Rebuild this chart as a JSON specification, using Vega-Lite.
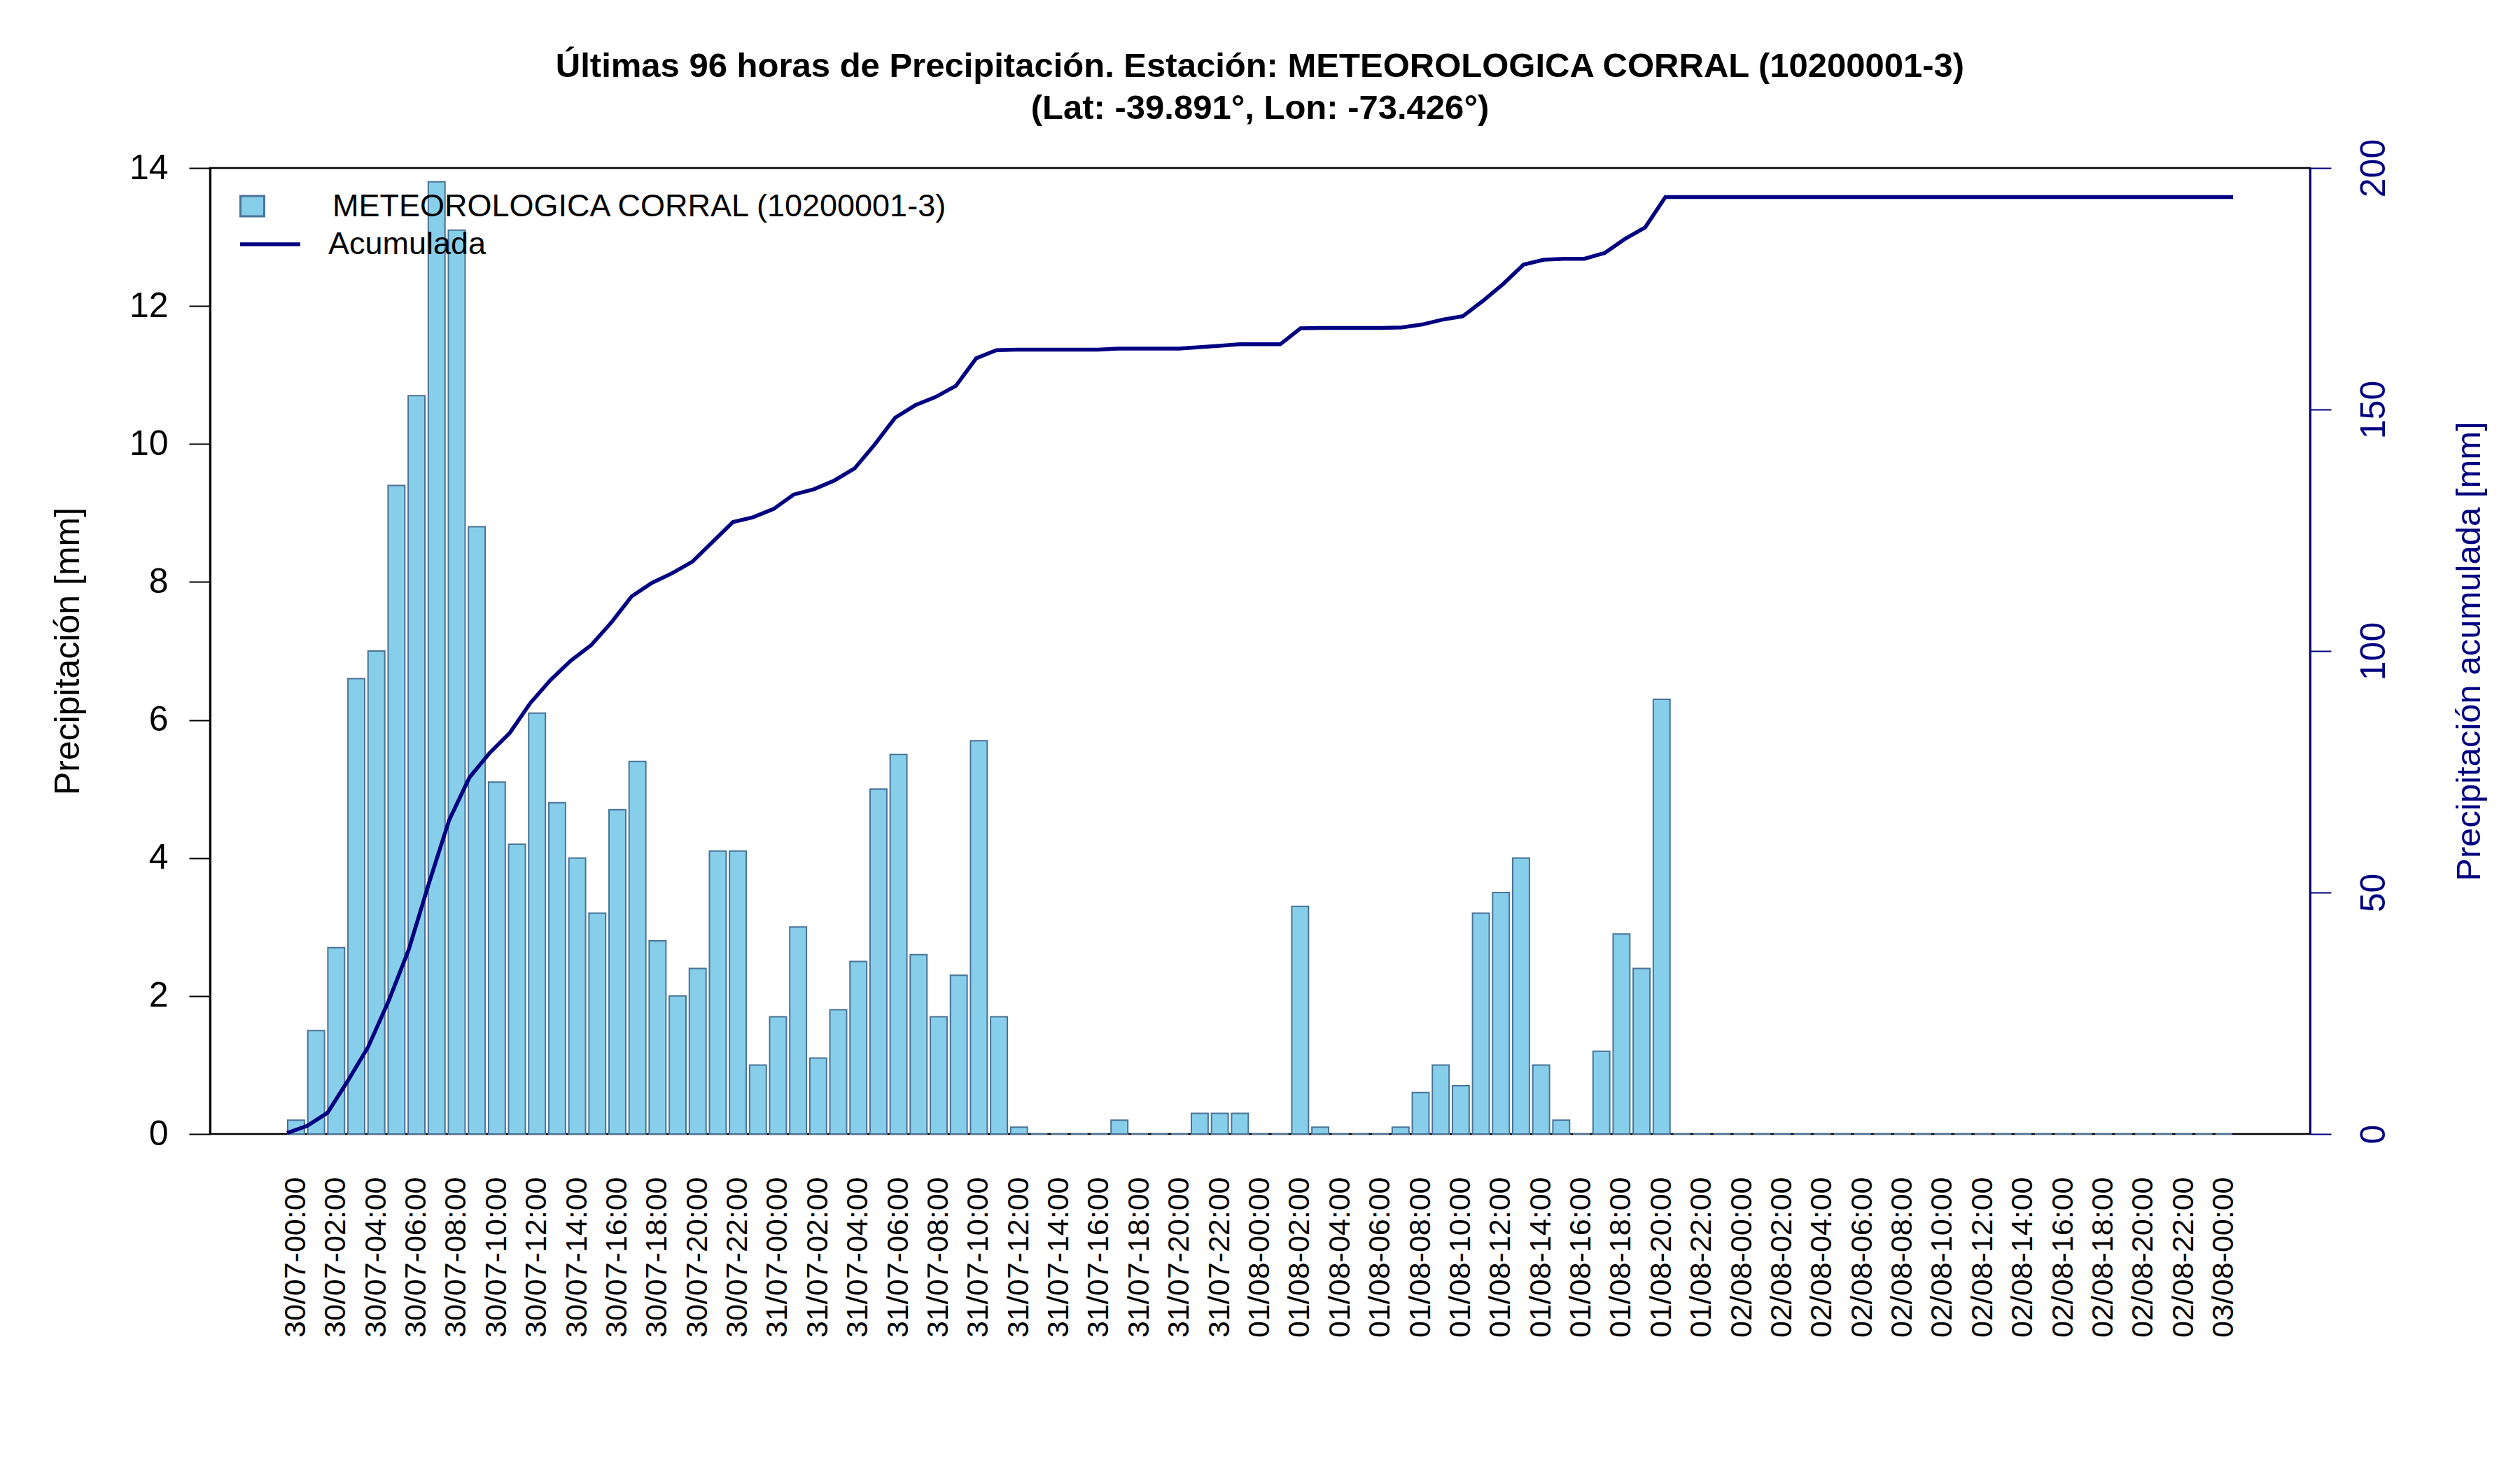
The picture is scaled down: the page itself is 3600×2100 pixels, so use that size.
{
  "$schema": "https://vega.github.io/schema/vega-lite/v6.json",
  "autosize": {"type": "none"},
  "padding": {"left": 300, "top": 240, "right": 300, "bottom": 480},
  "width": 3000,
  "height": 1380,
  "background": "white",
  "config": {
    "font": "Liberation Sans",
    "view": {"stroke": "black", "strokeWidth": 2.5},
    "axis": {"grid": false}
  },
  "title": {
    "text": ["Últimas 96 horas de Precipitación. Estación: METEOROLOGICA CORRAL (10200001-3)", "(Lat: -39.891°, Lon: -73.426°)"],
    "fontSize": 49,
    "fontWeight": "bold",
    "font": "Liberation Sans",
    "color": "black",
    "anchor": "middle",
    "frame": "group",
    "offset": 18,
    "lineHeight": 60
  },
  "data": {"values": [
    {"t": "30/07-00:00", "p": 0.2, "a": 0.2},
    {"t": "30/07-01:00", "p": 1.5, "a": 1.7},
    {"t": "30/07-02:00", "p": 2.7, "a": 4.4},
    {"t": "30/07-03:00", "p": 6.6, "a": 11.0},
    {"t": "30/07-04:00", "p": 7.0, "a": 18.0},
    {"t": "30/07-05:00", "p": 9.4, "a": 27.4},
    {"t": "30/07-06:00", "p": 10.7, "a": 38.1},
    {"t": "30/07-07:00", "p": 13.8, "a": 51.9},
    {"t": "30/07-08:00", "p": 13.1, "a": 65.0},
    {"t": "30/07-09:00", "p": 8.8, "a": 73.8},
    {"t": "30/07-10:00", "p": 5.1, "a": 78.9},
    {"t": "30/07-11:00", "p": 4.2, "a": 83.1},
    {"t": "30/07-12:00", "p": 6.1, "a": 89.2},
    {"t": "30/07-13:00", "p": 4.8, "a": 94.0},
    {"t": "30/07-14:00", "p": 4.0, "a": 98.0},
    {"t": "30/07-15:00", "p": 3.2, "a": 101.2},
    {"t": "30/07-16:00", "p": 4.7, "a": 105.9},
    {"t": "30/07-17:00", "p": 5.4, "a": 111.3},
    {"t": "30/07-18:00", "p": 2.8, "a": 114.1},
    {"t": "30/07-19:00", "p": 2.0, "a": 116.1},
    {"t": "30/07-20:00", "p": 2.4, "a": 118.5},
    {"t": "30/07-21:00", "p": 4.1, "a": 122.6},
    {"t": "30/07-22:00", "p": 4.1, "a": 126.7},
    {"t": "30/07-23:00", "p": 1.0, "a": 127.7},
    {"t": "31/07-00:00", "p": 1.7, "a": 129.4},
    {"t": "31/07-01:00", "p": 3.0, "a": 132.4},
    {"t": "31/07-02:00", "p": 1.1, "a": 133.5},
    {"t": "31/07-03:00", "p": 1.8, "a": 135.3},
    {"t": "31/07-04:00", "p": 2.5, "a": 137.8},
    {"t": "31/07-05:00", "p": 5.0, "a": 142.8},
    {"t": "31/07-06:00", "p": 5.5, "a": 148.3},
    {"t": "31/07-07:00", "p": 2.6, "a": 150.9},
    {"t": "31/07-08:00", "p": 1.7, "a": 152.6},
    {"t": "31/07-09:00", "p": 2.3, "a": 154.9},
    {"t": "31/07-10:00", "p": 5.7, "a": 160.6},
    {"t": "31/07-11:00", "p": 1.7, "a": 162.3},
    {"t": "31/07-12:00", "p": 0.1, "a": 162.4},
    {"t": "31/07-13:00", "p": 0, "a": 162.4},
    {"t": "31/07-14:00", "p": 0, "a": 162.4},
    {"t": "31/07-15:00", "p": 0, "a": 162.4},
    {"t": "31/07-16:00", "p": 0, "a": 162.4},
    {"t": "31/07-17:00", "p": 0.2, "a": 162.6},
    {"t": "31/07-18:00", "p": 0, "a": 162.6},
    {"t": "31/07-19:00", "p": 0, "a": 162.6},
    {"t": "31/07-20:00", "p": 0, "a": 162.6},
    {"t": "31/07-21:00", "p": 0.3, "a": 162.9},
    {"t": "31/07-22:00", "p": 0.3, "a": 163.2},
    {"t": "31/07-23:00", "p": 0.3, "a": 163.5},
    {"t": "01/08-00:00", "p": 0, "a": 163.5},
    {"t": "01/08-01:00", "p": 0, "a": 163.5},
    {"t": "01/08-02:00", "p": 3.3, "a": 166.8},
    {"t": "01/08-03:00", "p": 0.1, "a": 166.9},
    {"t": "01/08-04:00", "p": 0, "a": 166.9},
    {"t": "01/08-05:00", "p": 0, "a": 166.9},
    {"t": "01/08-06:00", "p": 0, "a": 166.9},
    {"t": "01/08-07:00", "p": 0.1, "a": 167.0},
    {"t": "01/08-08:00", "p": 0.6, "a": 167.6},
    {"t": "01/08-09:00", "p": 1.0, "a": 168.6},
    {"t": "01/08-10:00", "p": 0.7, "a": 169.3},
    {"t": "01/08-11:00", "p": 3.2, "a": 172.5},
    {"t": "01/08-12:00", "p": 3.5, "a": 176.0},
    {"t": "01/08-13:00", "p": 4.0, "a": 180.0},
    {"t": "01/08-14:00", "p": 1.0, "a": 181.0},
    {"t": "01/08-15:00", "p": 0.2, "a": 181.2},
    {"t": "01/08-16:00", "p": 0, "a": 181.2},
    {"t": "01/08-17:00", "p": 1.2, "a": 182.4},
    {"t": "01/08-18:00", "p": 2.9, "a": 185.3},
    {"t": "01/08-19:00", "p": 2.4, "a": 187.7},
    {"t": "01/08-20:00", "p": 6.3, "a": 194.0},
    {"t": "01/08-21:00", "p": 0, "a": 194.0},
    {"t": "01/08-22:00", "p": 0, "a": 194.0},
    {"t": "01/08-23:00", "p": 0, "a": 194.0},
    {"t": "02/08-00:00", "p": 0, "a": 194.0},
    {"t": "02/08-01:00", "p": 0, "a": 194.0},
    {"t": "02/08-02:00", "p": 0, "a": 194.0},
    {"t": "02/08-03:00", "p": 0, "a": 194.0},
    {"t": "02/08-04:00", "p": 0, "a": 194.0},
    {"t": "02/08-05:00", "p": 0, "a": 194.0},
    {"t": "02/08-06:00", "p": 0, "a": 194.0},
    {"t": "02/08-07:00", "p": 0, "a": 194.0},
    {"t": "02/08-08:00", "p": 0, "a": 194.0},
    {"t": "02/08-09:00", "p": 0, "a": 194.0},
    {"t": "02/08-10:00", "p": 0, "a": 194.0},
    {"t": "02/08-11:00", "p": 0, "a": 194.0},
    {"t": "02/08-12:00", "p": 0, "a": 194.0},
    {"t": "02/08-13:00", "p": 0, "a": 194.0},
    {"t": "02/08-14:00", "p": 0, "a": 194.0},
    {"t": "02/08-15:00", "p": 0, "a": 194.0},
    {"t": "02/08-16:00", "p": 0, "a": 194.0},
    {"t": "02/08-17:00", "p": 0, "a": 194.0},
    {"t": "02/08-18:00", "p": 0, "a": 194.0},
    {"t": "02/08-19:00", "p": 0, "a": 194.0},
    {"t": "02/08-20:00", "p": 0, "a": 194.0},
    {"t": "02/08-21:00", "p": 0, "a": 194.0},
    {"t": "02/08-22:00", "p": 0, "a": 194.0},
    {"t": "02/08-23:00", "p": 0, "a": 194.0},
    {"t": "03/08-00:00", "p": 0, "a": 194.0}
  ]},
  "layer": [
    {
      "mark": {"type": "bar", "stroke": "#4a7396", "strokeWidth": 2},
      "encoding": {
        "x": {
          "field": "t", "type": "ordinal", "sort": null,
          "scale": {"type": "band", "paddingInner": 0.1667, "paddingOuter": 0, "range": [111, 2889]},
          "axis": {
            "orient": "bottom",
            "title": null,
            "values": ["30/07-00:00","30/07-02:00","30/07-04:00","30/07-06:00","30/07-08:00","30/07-10:00","30/07-12:00","30/07-14:00","30/07-16:00","30/07-18:00","30/07-20:00","30/07-22:00","31/07-00:00","31/07-02:00","31/07-04:00","31/07-06:00","31/07-08:00","31/07-10:00","31/07-12:00","31/07-14:00","31/07-16:00","31/07-18:00","31/07-20:00","31/07-22:00","01/08-00:00","01/08-02:00","01/08-04:00","01/08-06:00","01/08-08:00","01/08-10:00","01/08-12:00","01/08-14:00","01/08-16:00","01/08-18:00","01/08-20:00","01/08-22:00","02/08-00:00","02/08-02:00","02/08-04:00","02/08-06:00","02/08-08:00","02/08-10:00","02/08-12:00","02/08-14:00","02/08-16:00","02/08-18:00","02/08-20:00","02/08-22:00","03/08-00:00"],
            "ticks": false,
            "domain": false,
            "labelAngle": 270,
            "labelAlign": "right",
            "labelBaseline": "middle",
            "labelFontSize": 43,
            "labelColor": "black",
            "labelPadding": 61,
            "labelLimit": 1000,
            "labelOverlap": false,
            "labelFlush": false,
            "labelBound": false
          }
        },
        "y": {
          "field": "p", "type": "quantitative",
          "scale": {"domain": [0, 14], "nice": false, "zero": true},
          "axis": {
            "orient": "left",
            "title": "Precipitación [mm]",
            "values": [0, 2, 4, 6, 8, 10, 12, 14],
            "domainColor": "black",
            "domainWidth": 3,
            "tickColor": "black",
            "tickWidth": 2,
            "tickSize": 30,
            "labelFontSize": 50,
            "labelColor": "black",
            "labelPadding": 30,
            "labelFlush": false,
            "titleFontSize": 50,
            "titleFontWeight": "normal",
            "titleColor": "black",
            "titleAngle": 270,
            "titleX": -203,
            "titleY": 690,
            "titleAlign": "center",
            "titleBaseline": "middle"
          }
        },
        "fill": {
          "datum": "METEOROLOGICA CORRAL (10200001-3)",
          "type": "nominal",
          "scale": {"range": ["#87CEEB"]},
          "legend": {
            "title": null,
            "orient": "none",
            "legendX": 38,
            "legendY": 32,
            "padding": 0,
            "symbolType": "M-1,-0.85H1V0.85H-1Z",
            "symbolSize": 1156,
            "symbolStrokeColor": "#4a7396",
            "symbolStrokeWidth": 3,
            "symbolFillColor": "#87CEEB",
            "labelFontSize": 45,
            "labelColor": "black",
            "labelOffset": 92,
            "labelLimit": 2000
          }
        }
      }
    },
    {
      "mark": {"type": "line", "strokeWidth": 5.5},
      "encoding": {
        "x": {
          "field": "t", "type": "ordinal", "sort": null,
          "scale": {"type": "point", "padding": 0, "range": [110, 2890]},
          "axis": null
        },
        "y": {
          "field": "a", "type": "quantitative",
          "scale": {"domain": [0, 200], "nice": false, "zero": true},
          "axis": {
            "orient": "right",
            "title": "Precipitación acumulada [mm]",
            "values": [0, 50, 100, 150, 200],
            "domainColor": "#000080",
            "domainWidth": 3,
            "tickColor": "#000080",
            "tickWidth": 2,
            "tickSize": 30,
            "labelFontSize": 50,
            "labelColor": "#000080",
            "labelAngle": 270,
            "labelAlign": "center",
            "labelBaseline": "middle",
            "labelPadding": 61,
            "labelFlush": false,
            "titleFontSize": 49,
            "titleFontWeight": "normal",
            "titleColor": "#000080",
            "titleAngle": 270,
            "titleX": 227,
            "titleY": 690,
            "titleAlign": "center",
            "titleBaseline": "middle"
          }
        },
        "stroke": {
          "datum": "Acumulada",
          "type": "nominal",
          "scale": {"range": ["#000080"]},
          "legend": {
            "title": null,
            "orient": "none",
            "legendX": 40,
            "legendY": 63,
            "padding": 0,
            "symbolType": "stroke",
            "symbolSize": 7396,
            "symbolStrokeWidth": 5.5,
            "labelFontSize": 45,
            "labelColor": "black",
            "labelOffset": 37,
            "labelLimit": 2000
          }
        }
      }
    }
  ],
  "resolve": {"scale": {"x": "independent", "y": "independent", "fill": "independent", "stroke": "independent"}}
}
